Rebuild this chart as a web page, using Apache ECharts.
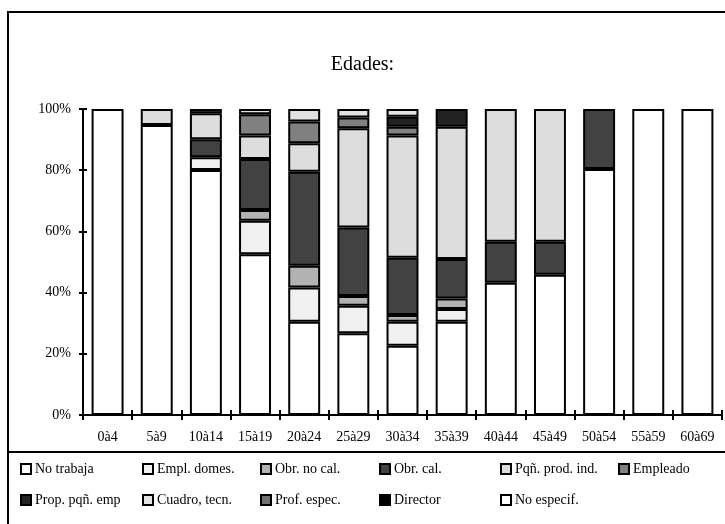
<!DOCTYPE html>
<html>
<head>
<meta charset="utf-8">
<script src="https://cdn.jsdelivr.net/npm/echarts@6/dist/echarts.min.js"></script>
<style>
html,body{margin:0;padding:0;background:#fff;}
#chart{width:725px;height:524px;}
</style>
</head>
<body>
<div id="chart"></div>
<script>
const categories = ['0à4','5à9','10à14','15à19','20à24','25à29','30à34','35à39','40à44','45à49','50à54','55à59','60à69'];
const yTicks = [0, 20, 40, 60, 80, 100];

const noTrabaja    = [100, 94.8, 80.1, 52.5, 30.5, 26.7, 22.6, 30.5, 43.2, 45.8, 80.4, 100, 100];
const emplDomes    = [0, 0, 4.1, 11.0, 11.2, 9.0, 7.9, 4.1, 0, 0, 0, 0, 0];
const obrNoCal     = [0, 0, 0, 3.5, 7.1, 3.2, 2.2, 3.5, 0, 0, 0, 0, 0];
const obrCal       = [0, 0, 5.9, 16.7, 30.7, 22.4, 18.7, 12.9, 13.4, 10.8, 19.6, 0, 0];
const pqnProdInd   = [0, 5.2, 8.5, 7.6, 9.3, 32.4, 39.9, 43.2, 43.4, 43.4, 0, 0, 0];
const empleado     = [0, 0, 1.4, 7.0, 7.1, 3.5, 2.9, 0, 0, 0, 0, 0, 0];
const propPqnEmp   = [0, 0, 0, 0, 0, 0, 3.3, 5.8, 0, 0, 0, 0, 0];
const cuadroTecn   = [0, 0, 0, 1.7, 4.1, 2.8, 2.5, 0, 0, 0, 0, 0, 0];
const profEspec    = [0, 0, 0, 0, 0, 0, 0, 0, 0, 0, 0, 0, 0];
const director     = [0, 0, 0, 0, 0, 0, 0, 0, 0, 0, 0, 0, 0];
const noEspecif    = [0, 0, 0, 0, 0, 0, 0, 0, 0, 0, 0, 0, 0];

const seriesNames  = ['No trabaja','Empl. domes.','Obr. no cal.','Obr. cal.','Pqñ. prod. ind.','Empleado','Prop. pqñ. emp','Cuadro, tecn.','Prof. espec.','Director','No especif.'];
const seriesData   = [noTrabaja, emplDomes, obrNoCal, obrCal, pqnProdInd, empleado, propPqnEmp, cuadroTecn, profEspec, director, noEspecif];
const seriesColors = ['#ffffff','#f0f0f0','#b2b2b2','#424242','#dddddd','#808080','#222222','#e2e2e2','#707070','#000000','#ffffff'];

const legendCols = [20, 142, 260, 379, 500, 618];
const legendRows = [462, 493];

const FONT = '"Liberation Serif", "Times New Roman", serif';

const chart = echarts.init(document.getElementById('chart'));

const series = seriesNames.map((name, i) => ({
  name: name,
  type: 'bar',
  stack: 'total',
  barWidth: '65%',
  xAxisIndex: 0,
  yAxisIndex: 0,
  data: seriesData[i].map(v => v === 0 ? null : v),
  itemStyle: { color: seriesColors[i], borderColor: '#000', borderWidth: 2 },
  emphasis: { disabled: true }
}));

const legends = seriesNames.map((name, i) => ({
  data: [name],
  left: legendCols[i % 6],
  top: legendRows[Math.floor(i / 6)],
  icon: 'rect',
  itemWidth: 10,
  itemHeight: 10,
  itemGap: 0,
  padding: 0,
  selectedMode: false,
  itemStyle: { borderColor: '#000', borderWidth: 2 },
  textStyle: { fontFamily: FONT, fontSize: 14, color: '#000', padding: [0, 0, 0, -1] }
}));

chart.setOption({
  animation: false,
  backgroundColor: '#fff',
  title: {
    text: 'Edades:',
    left: 'center',
    top: 50,
    textStyle: { fontFamily: FONT, fontSize: 20, fontWeight: 'normal', color: '#000' }
  },
  legend: legends,
  grid: { left: 83, right: 3, top: 109, bottom: 109, containLabel: false },
  xAxis: [
    {
      type: 'category',
      data: categories,
      axisLine: { lineStyle: { color: '#000', width: 2 } },
      axisTick: { show: true, length: 5, lineStyle: { color: '#000', width: 2 }, alignWithLabel: false },
      axisLabel: { fontFamily: FONT, fontSize: 14, color: '#000', margin: 15, interval: 0 },
      splitLine: { show: false }
    },
    {
      type: 'category',
      data: categories,
      position: 'bottom',
      offset: 0,
      axisLine: { show: false },
      axisTick: { show: true, inside: true, length: 5, lineStyle: { color: '#000', width: 2 } },
      axisLabel: { show: false },
      splitLine: { show: false }
    }
  ],
  yAxis: [
    {
      type: 'value',
      min: yTicks[0],
      max: yTicks[yTicks.length - 1],
      interval: 20,
      axisLine: { show: true, lineStyle: { color: '#000', width: 2 } },
      axisTick: { show: true, length: 4, lineStyle: { color: '#000', width: 2 } },
      axisLabel: { fontFamily: FONT, fontSize: 14, color: '#000', margin: 12, formatter: '{value}%' },
      splitLine: { show: false }
    },
    {
      type: 'value',
      min: yTicks[0],
      max: yTicks[yTicks.length - 1],
      interval: 20,
      position: 'left',
      offset: 0,
      axisLine: { show: false },
      axisTick: { show: true, inside: true, length: 4, lineStyle: { color: '#000', width: 2 } },
      axisLabel: { show: false },
      splitLine: { show: false }
    }
  ],
  graphic: [
    { type: 'rect', shape: { x: 8, y: 12, width: 740, height: 540 }, style: { fill: 'none', stroke: '#000', lineWidth: 2 }, silent: true },
    { type: 'line', shape: { x1: 8, y1: 452, x2: 730, y2: 452 }, style: { stroke: '#000', lineWidth: 2 }, silent: true }
  ],
  series: series
});
</script>
</body>
</html>
